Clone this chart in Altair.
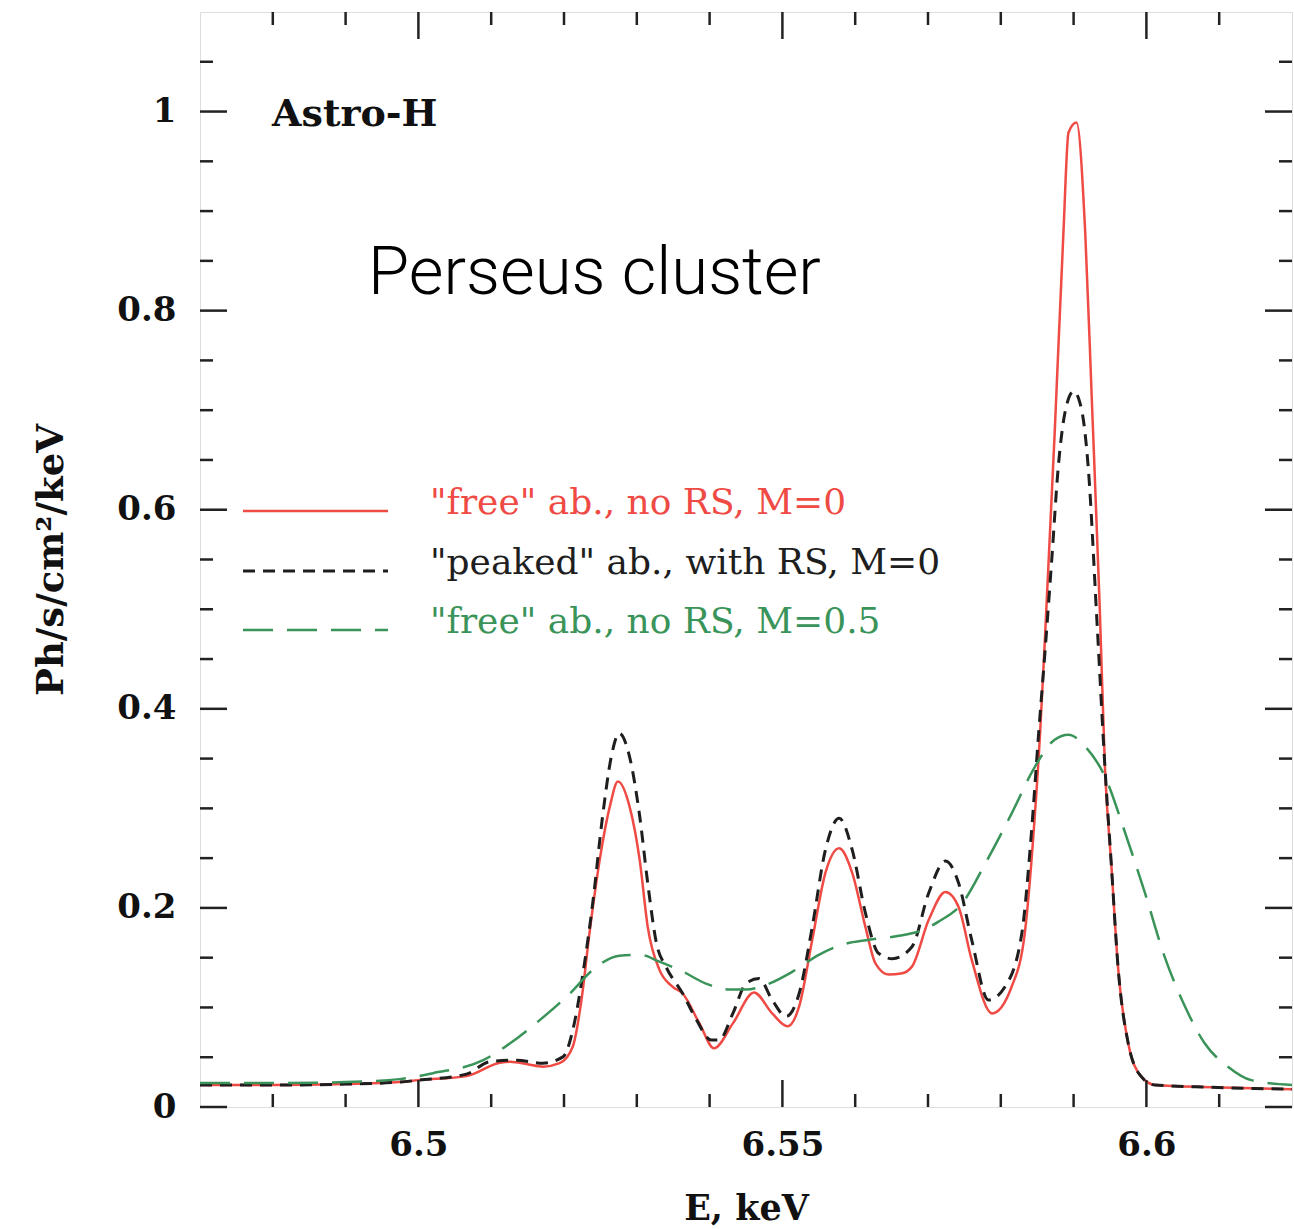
import altair as alt
import pandas as pd

# ---------------- data ----------------
red_E = [6.470, 6.480, 6.490, 6.4974, 6.500, 6.5066, 6.5112, 6.5126, 6.5150, 6.5171,
         6.5194, 6.5212, 6.5224, 6.5235, 6.5249, 6.5263, 6.5274, 6.5290, 6.5304, 6.5315,
         6.5331, 6.5349, 6.5363, 6.5386, 6.5406, 6.5432, 6.5461, 6.5486, 6.5507, 6.5523,
         6.5541, 6.5559, 6.5578, 6.5596, 6.5614, 6.5628, 6.5646, 6.5663, 6.5678, 6.5701,
         6.5724, 6.5742, 6.5760, 6.5788, 6.5815, 6.5833, 6.5845, 6.5854, 6.5861, 6.5874,
         6.5886, 6.5893, 6.5904, 6.5916, 6.5925, 6.5936, 6.5943, 6.5952, 6.5961, 6.5975,
         6.5993, 6.6012, 6.6090, 6.6200]
red_v = [0.022, 0.022, 0.023, 0.025, 0.027, 0.031, 0.0445, 0.0455, 0.043, 0.0405,
         0.044, 0.0606, 0.1075, 0.1746, 0.248, 0.302, 0.327, 0.302, 0.248, 0.181,
         0.138, 0.121, 0.114, 0.084, 0.059, 0.084, 0.115, 0.094, 0.081, 0.101,
         0.168, 0.235, 0.260, 0.235, 0.181, 0.144, 0.133, 0.134, 0.141, 0.188,
         0.216, 0.201, 0.148, 0.094, 0.121, 0.175, 0.275, 0.376, 0.476, 0.677,
         0.878, 0.979, 0.989, 0.878, 0.711, 0.500, 0.342, 0.2415, 0.141, 0.064,
         0.0305, 0.0221, 0.0198, 0.0178]

black_E = [6.470, 6.480, 6.490, 6.4974, 6.500, 6.5066, 6.5098, 6.5135, 6.5171, 6.5199,
           6.5212, 6.5226, 6.5240, 6.5253, 6.5265, 6.5276, 6.5290, 6.5304, 6.5315, 6.5327,
           6.5340, 6.5363, 6.5382, 6.5402, 6.5413, 6.5432, 6.5450, 6.5468, 6.5486, 6.5505,
           6.5523, 6.5541, 6.5559, 6.5578, 6.5596, 6.5614, 6.5632, 6.5651, 6.5678, 6.5701,
           6.5724, 6.5742, 6.5760, 6.5783, 6.5806, 6.5829, 6.5842, 6.5852, 6.5861, 6.5870,
           6.5879, 6.5890, 6.5900, 6.5911, 6.5920, 6.5932, 6.5943, 6.5952, 6.5961, 6.5975,
           6.5993, 6.6012, 6.6090, 6.6200]
black_v = [0.022, 0.022, 0.023, 0.025, 0.027, 0.033, 0.0455, 0.047, 0.044, 0.0506,
           0.077, 0.134, 0.208, 0.292, 0.352, 0.3755, 0.352, 0.292, 0.225, 0.1645,
           0.141, 0.114, 0.0875, 0.0673, 0.0673, 0.094, 0.124, 0.129, 0.1075, 0.091,
           0.114, 0.181, 0.258, 0.290, 0.258, 0.195, 0.1545, 0.149, 0.161, 0.215,
           0.247, 0.225, 0.168, 0.1075, 0.121, 0.175, 0.275, 0.3755, 0.46, 0.55,
           0.6435, 0.704, 0.719, 0.7005, 0.6435, 0.489, 0.342, 0.2415, 0.141, 0.064,
           0.0305, 0.0221, 0.0198, 0.0178]

green_E = [6.470, 6.480, 6.490, 6.4974, 6.502, 6.5089, 6.5126, 6.5167, 6.5208, 6.5240,
           6.5276, 6.5304, 6.5331, 6.5363, 6.5395, 6.5427, 6.5450, 6.5477, 6.5514, 6.5550,
           6.5582, 6.5619, 6.5660, 6.5690, 6.5714, 6.5747, 6.5779, 6.5815, 6.5847, 6.5874,
           6.5893, 6.5916, 6.5943, 6.5971, 6.5998, 6.6025, 6.6053, 6.6080, 6.6112, 6.6144,
           6.6200]
green_v = [0.024, 0.024, 0.025, 0.028, 0.034, 0.047, 0.064, 0.0875, 0.114, 0.138,
           0.152, 0.153, 0.146, 0.136, 0.124, 0.118, 0.118, 0.1226, 0.136, 0.1528,
           0.163, 0.168, 0.172, 0.177, 0.186, 0.2047, 0.245, 0.295, 0.342, 0.369,
           0.374, 0.362, 0.332, 0.275, 0.215, 0.151, 0.101, 0.064, 0.0405, 0.027,
           0.022]

x_major = [6.5, 6.55, 6.6]
x_minor = [6.48, 6.49, 6.51, 6.52, 6.53, 6.54, 6.56, 6.57, 6.58, 6.59, 6.61]
y_major = [0, 0.2, 0.4, 0.6, 0.8, 1.0]
y_minor = [0.05, 0.1, 0.15, 0.25, 0.3, 0.35, 0.45, 0.5, 0.55, 0.65, 0.7, 0.75,
           0.85, 0.9, 0.95, 1.05]

legend_labels = ['"free" ab., no RS, M=0',
                 '"peaked" ab., with RS, M=0',
                 '"free" ab., no RS, M=0.5']

# ---------------- styling ----------------
W, H = 1092, 1095
RED, BLACK, GREEN = "#ef4a44", "#1e1e1e", "#3a9459"
FRAME = "#222222"
SERIF = "DejaVu Serif"

xs = alt.Scale(domain=[6.47, 6.62], nice=False, zero=False)
ys = alt.Scale(domain=[0, 1.1], nice=False, zero=False)

XA = alt.Axis(values=x_major, format=".2~f", title="E, keV", ticks=False,
              domain=False, grid=False, labelFont=SERIF, labelFontSize=34,
              labelFontWeight="bold", labelColor="#111", labelPadding=21,
              titleFont=SERIF, titleFontSize=35, titleFontWeight="bold",
              titleColor="#111", titlePadding=29)
YA = alt.Axis(values=y_major, format=".1~f", title="Ph/s/cm²/keV", ticks=False,
              domain=False, grid=False, labelFont=SERIF, labelFontSize=34,
              labelFontWeight="bold", labelColor="#111", labelPadding=24,
              titleFont=SERIF, titleFontSize=37, titleFontWeight="bold",
              titleColor="#111", titlePadding=46)


def series(E, v, color, width, dash=None):
    df = pd.DataFrame({"E": E, "v": v})
    kw = dict(color=color, strokeWidth=width, interpolate="monotone")
    if dash:
        kw["strokeDash"] = dash
    return alt.Chart(df).mark_line(**kw).encode(
        x=alt.X("E:Q", scale=xs, axis=XA),
        y=alt.Y("v:Q", scale=ys, axis=YA),
    )


def xticks(vals, length, top):
    df = pd.DataFrame({"E": vals})
    y0, y1 = (0, length) if top else (H, H - length)
    return alt.Chart(df).mark_rule(color=FRAME, strokeWidth=2.5).encode(
        x=alt.X("E:Q", scale=xs, axis=XA), y=alt.value(y0), y2=alt.value(y1))


def yticks(vals, length, right):
    df = pd.DataFrame({"v": vals})
    x0, x1 = (W, W - length) if right else (0, length)
    return alt.Chart(df).mark_rule(color=FRAME, strokeWidth=2.5).encode(
        y=alt.Y("v:Q", scale=ys, axis=YA), x=alt.value(x0), x2=alt.value(x1))


layers = [
    series(red_E, red_v, RED, 2.5),
    series(black_E, black_v, BLACK, 3, dash=[12, 8]),
    series(green_E, green_v, GREEN, 2.5, dash=[30, 14]),
]
for top in (False, True):
    layers.append(xticks(x_major, 27, top))
    layers.append(xticks(x_minor, 13, top))
for right in (False, True):
    layers.append(yticks(y_major, 27, right))
    layers.append(yticks(y_minor, 13, right))

one = pd.DataFrame({"k": [0]})
leg_styles = [(RED, None, 2.5), (BLACK, [12, 8], 3), (GREEN, [30, 14], 2.5)]
leg_y = [499, 559, 618]
for (col, dash, w), lab, yy in zip(leg_styles, legend_labels, leg_y):
    kw = dict(color=col, strokeWidth=w)
    if dash:
        kw["strokeDash"] = dash
    layers.append(alt.Chart(one).mark_rule(**kw).encode(
        x=alt.value(43), x2=alt.value(188), y=alt.value(yy)))
    layers.append(alt.Chart(one).mark_text(
        text=lab, align="left", baseline="middle", font=SERIF, fontSize=36,
        color=col).encode(x=alt.value(230), y=alt.value(yy - 8)))

layers.append(alt.Chart(one).mark_text(
    text="Astro-H", align="left", baseline="alphabetic", font=SERIF, fontSize=38,
    fontWeight="bold", color="#111").encode(x=alt.value(72), y=alt.value(114)))
layers.append(alt.Chart(one).mark_text(
    text="Perseus cluster", align="left", baseline="alphabetic", font="Roboto",
    fontSize=67, fontWeight=300, color="#000").encode(x=alt.value(168), y=alt.value(282)))

chart = alt.layer(*layers).properties(
    width=W, height=H,
    padding={"left": 200, "top": 12, "right": 2, "bottom": 122},
    autosize=alt.AutoSizeParams(type="none"),
).configure_view(stroke=FRAME, strokeWidth=3).configure(background="white")

chart.save("out.html", embed_options={"renderer": "svg", "actions": False})
